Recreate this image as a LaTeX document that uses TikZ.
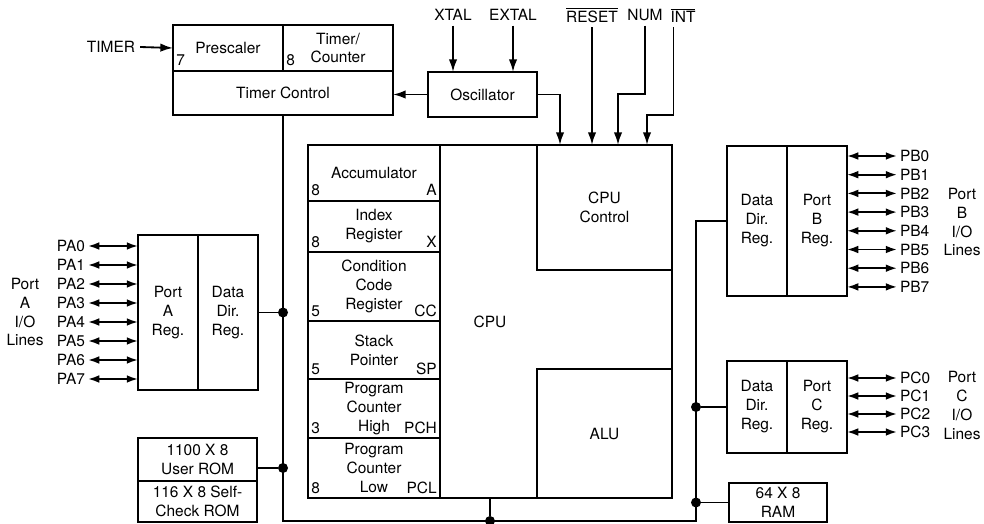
\documentclass[tikz,border=0pt]{standalone}
\usepackage{fontspec}
\setmainfont{TeX Gyre Heros}
\usetikzlibrary{arrows.meta, positioning}
\newcommand\pxu{0.025cm}
\newcommand\barred[1]{$\overline{\hbox{#1}}$}
\tikzset{
  every node/.style={font=\fontsize{11}{13.5}\selectfont},
  blk/.style 2 args = {draw, line width=1.3pt, minimum width=#1*\pxu, minimum height=#2*\pxu,
                       inner sep=0pt, outer sep=0pt, align=center},
  reg/.style    = {blk={132}{#1}},
  corner/.style = {inner sep=0pt},
  bus/.style    = {line width=1.4pt},
  arrow/.style  = {-{Latex[length=9pt,width=6pt]}, line width=1.3pt},
  biarrow/.style = {{Latex[length=8pt,width=5.5pt]}-{Latex[length=8pt,width=5.5pt]}, line width=1.3pt},
  dot/.style    = {circle, fill, inner sep=0pt, minimum size=10*\pxu},
  pin/.style    = {inner sep=2pt},
}
\begin{document}
\begin{tikzpicture}[x=0.025cm, y=-0.025cm]
  \useasboundingbox (0,0) rectangle (984,524);

  % ---- timer ----
  \node[blk={110}{46}] (presc)  at (228,48) {Prescaler};
  \node[blk={110}{46}] (tmrcnt) at (338,48) {Timer/\\Counter};
  \node[blk={220}{44}] (tmrctl) at (283,93) {Timer Control};
  \node[corner, anchor=base west] (presc-bits)  at ([shift={(3,-5)}]presc.south west)  {7};
  \node[corner, anchor=base west] (tmrcnt-bits) at ([shift={(3,-5)}]tmrcnt.south west) {8};
  \node (timer) at (111,47) {TIMER};
  \draw[arrow] (timer.east) -- (presc.west);

  % ---- oscillator + control inputs ----
  \node[blk={109}{45}] (osc) at (482.5,94.5) {Oscillator};
  \node (xtal)  at (453,15) {XTAL};
  \node (extal) at (513,15) {EXTAL};
  \node (reset) at (592,15) {\barred{RESET}};
  \node (num)   at (645,15) {NUM};
  \node (int)   at (683,15) {\barred{INT}};
  \draw[arrow] (xtal)  -- (xtal |- osc.north);
  \draw[arrow] (extal) -- (extal |- osc.north);
  \draw[arrow] (osc.west) -- (osc.west -| tmrctl.east);

  % ---- CPU ----
  \node[blk={364}{353}] (cpu) at (490,321.5) {CPU};
  \node[blk={135}{125}, anchor=north east] (cpuctl) at (cpu.north east) {CPU\\Control};
  \node[blk={135}{129}, anchor=south east] (alu)    at (cpu.south east) {ALU};
  \node[reg={56}, anchor=north west] (acc) at (cpu.north west) {Accumulator};
  \node[reg={51}, below=0pt of acc] (idx) {Index\\Register};
  \node[reg={69}, below=0pt of idx] (ccr) {Condition\\Code\\Register};
  \node[reg={58}, below=0pt of ccr] (sp)  {Stack\\Pointer};
  \node[reg={59}, below=0pt of sp]  (pch) {Program\\Counter\\High};
  \node[reg={60}, below=0pt of pch] (pcl) {Program\\Counter\\Low};
  \foreach \r/\b/\n in {acc/8/A, idx/8/X, ccr/5/CC, sp/5/SP, pch/3/PCH, pcl/8/PCL} {
    \node[corner, anchor=base west] (\r-bits) at ([shift={(3,-5)}]\r.south west)  {\b};
    \node[corner, anchor=base east] (\r-name) at ([shift={(-3,-5)}]\r.south east) {\n};
  }

  \draw[arrow] (osc.east) -| (cpu.north -| 560,0);
  \draw[arrow] (reset) -- (reset |- cpu.north);
  \draw[arrow] (num.south) -- ++(0,68) -| (cpu.north -| 618,0);
  \draw[arrow] ([xshift=8*\pxu]int.south west) -- ++(0,88) -| (cpu.north -| 647,0);

  % ---- port A ----
  \node[blk={60}{155}] (porta) at (168,312.5) {Port\\A\\Reg.};
  \node[blk={60}{155}, right=0pt of porta] (ddra) {Data\\Dir.\\Reg.};
  \foreach \i in {0,...,7} {
    \node[pin, anchor=east] (pa\i) at (88,246+19*\i) {PA\i};
    \draw[biarrow] (pa\i.east) -- (porta.west |- pa\i);
  }
  \node[align=center] (portalbl) at (25,312) {Port\\A\\I/O\\Lines};

  % ---- port B ----
  \node[blk={60}{150}] (ddrb) at (757,221) {Data\\Dir.\\Reg.};
  \node[blk={60}{150}, right=0pt of ddrb] (portb) {Port\\B\\Reg.};
  \foreach \i in {0,...,7} {
    \node[pin, anchor=west] (pb\i) at (897,156+18.7*\i) {PB\i};
    \draw[biarrow] (portb.east |- pb\i) -- (pb\i.west);
  }
  \node[align=center] (portblbl) at (962,222) {Port\\B\\I/O\\Lines};

  % ---- port C ----
  \node[blk={60}{92}] (ddrc) at (757,407) {Data\\Dir.\\Reg.};
  \node[blk={60}{92}, right=0pt of ddrc] (portc) {Port\\C\\Reg.};
  \foreach \i in {0,...,3} {
    \node[pin, anchor=west] (pc\i) at (897,378+18*\i) {PC\i};
    \draw[biarrow] (portc.east |- pc\i) -- (pc\i.west);
  }
  \node[align=center] (portclbl) at (962,405) {Port\\C\\I/O\\Lines};

  % ---- memories ----
  \node[blk={119}{43}] (urom) at (197.5,459.5) {1100 X 8\\User ROM};
  \node[blk={119}{41}, below=0pt of urom] (crom) {116 X 8 Self-\\Check ROM};
  \node[blk={98}{39}] (ram) at (778,502.5) {64 X 8\\RAM};

  % ---- internal bus ----
  \coordinate (busbl) at (tmrctl.south |- 0,521);
  \coordinate (busbr) at (696,521);
  \draw[bus] (tmrctl.south) -- (busbl) -- (busbr) |- (ddrb.west);
  \node[dot] (jA) at (tmrctl.south |- ddra.east) {};
  \node[dot] (jR) at (tmrctl.south |- 0,468) {};
  \node[dot] (jP) at (cpu.south |- busbl) {};
  \node[dot] (jC) at (busbr |- ddrc.west) {};
  \node[dot] (jM) at (busbr |- ram.west) {};
  \draw[bus] (ddra.east) -- (jA);
  \draw[bus] (urom.east |- jR) -- (jR);
  \draw[bus] (jP) -- (cpu.south);
  \draw[bus] (jC) -- (ddrc.west);
  \draw[bus] (jM) -- (ram.west);
\end{tikzpicture}
\end{document}
